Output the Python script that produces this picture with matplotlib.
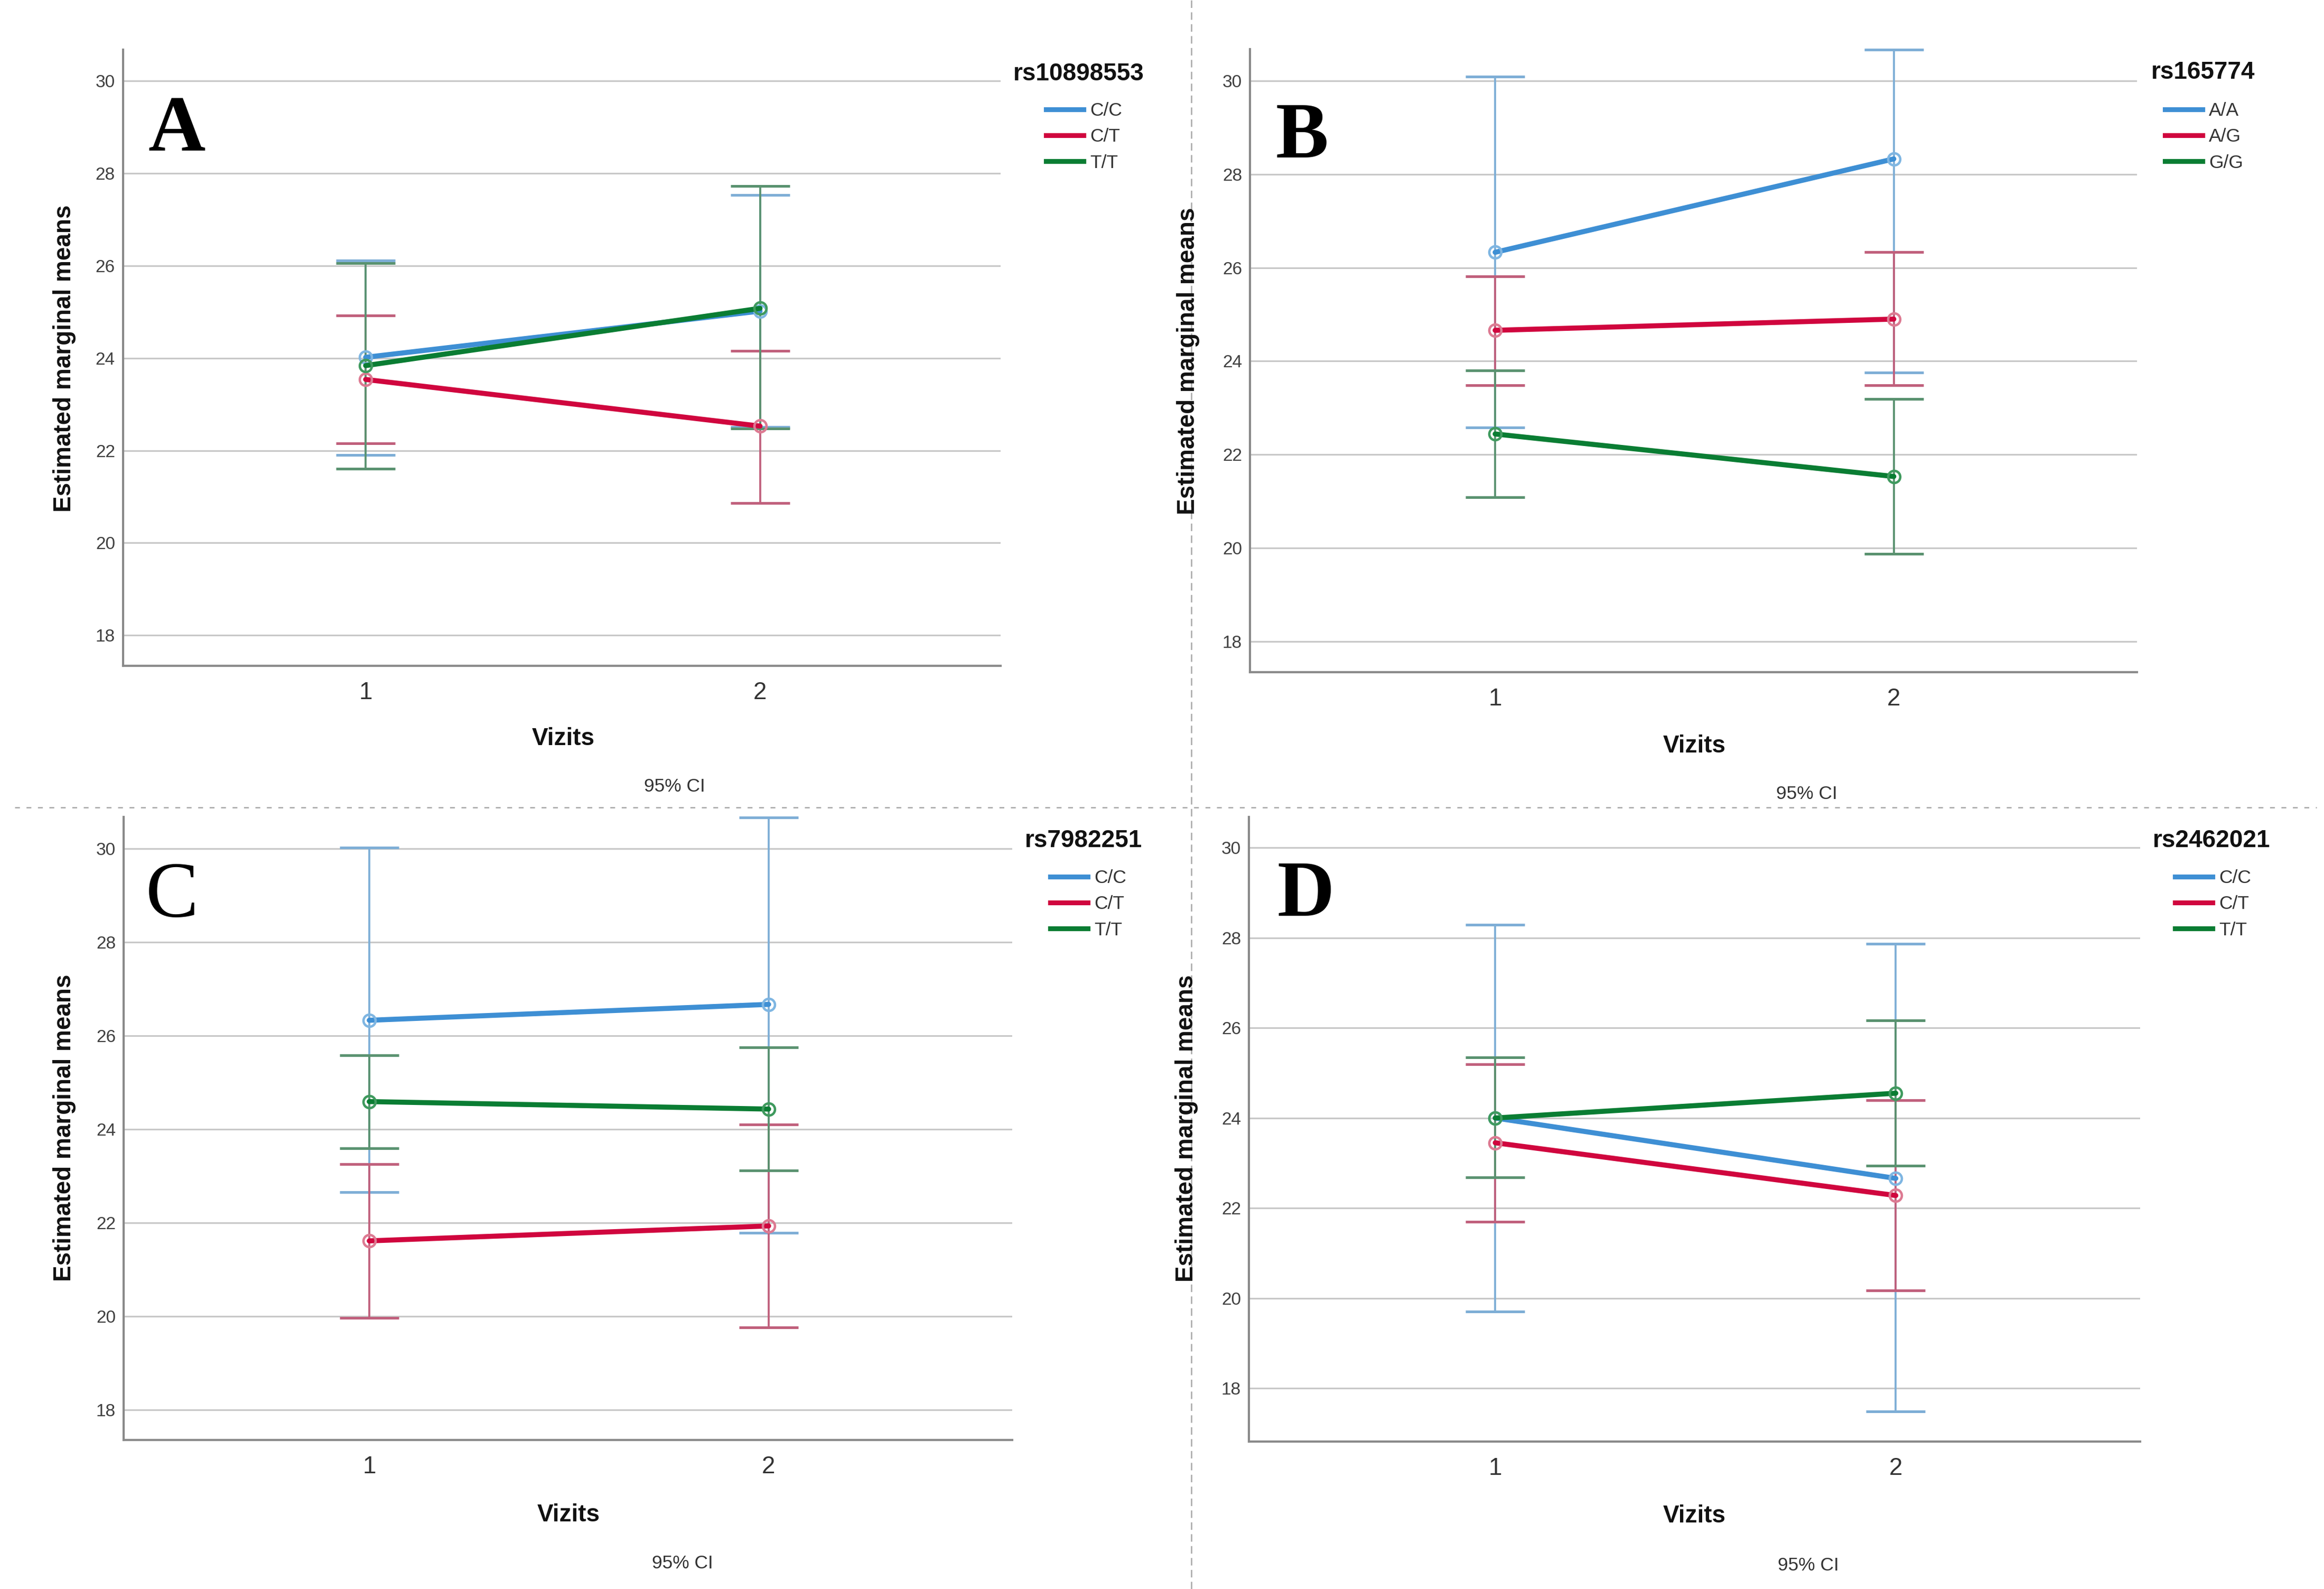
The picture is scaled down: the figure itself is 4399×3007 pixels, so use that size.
import matplotlib
matplotlib.use('Agg')
import matplotlib.pyplot as plt
from matplotlib.lines import Line2D

plt.rcParams['font.family'] = ['Liberation Sans', 'DejaVu Sans']
plt.rcParams['lines.scale_dashes'] = False

# ---------------- data ----------------
visits = [1, 2]
y_ticks = [18, 20, 22, 24, 26, 28, 30]

A_snp = 'rs10898553'
A_groups = ['C/C', 'C/T', 'T/T']
A_means = [[24.02, 25.02], [23.54, 22.53], [23.84, 25.08]]
A_lower = [[21.90, 22.51], [22.16, 20.86], [21.61, 22.48]]
A_upper = [[26.12, 27.53], [24.93, 24.16], [26.06, 27.73]]

B_snp = 'rs165774'
B_groups = ['A/A', 'A/G', 'G/G']
B_means = [[26.33, 28.33], [24.66, 24.90], [22.44, 21.53]]
B_lower = [[22.58, 23.75], [23.48, 23.48], [21.08, 19.87]]
B_upper = [[30.09, 30.67], [25.82, 26.33], [23.80, 23.19]]

C_snp = 'rs7982251'
C_groups = ['C/C', 'C/T', 'T/T']
C_means = [[26.33, 26.67], [21.61, 21.93], [24.59, 24.43]]
C_lower = [[22.65, 21.78], [19.96, 19.76], [23.59, 23.12]]
C_upper = [[30.02, 30.67], [23.25, 24.10], [25.58, 25.75]]

D_snp = 'rs2462021'
D_groups = ['C/C', 'C/T', 'T/T']
D_means = [[24.00, 22.66], [23.45, 22.28], [24.00, 24.55]]
D_lower = [[19.71, 17.49], [21.70, 20.17], [22.68, 22.94]]
D_upper = [[28.29, 27.86], [25.19, 24.40], [25.35, 26.16]]

# ---------------- style ----------------
line_colors = ['#3e8fd4', '#d0063e', '#0a7d33']
err_colors = ['#7eaed6', '#c0607c', '#5a9270']
mark_edges = ['#7fb6e2', '#dd7a92', '#3f9a5e']

W, H = 4399, 3007
fig = plt.figure(figsize=(W / 300, H / 300), dpi=300)


def fx(x):
    return x / W


def fy(y):
    return 1 - y / H


panels = [
    dict(letter='A', bold=True, snp=A_snp, groups=A_groups, means=A_means, lower=A_lower, upper=A_upper,
         box=(233, 94, 1894, 1260), ylim=(17.34, 30.68),
         letter_xy=(280, 285), ylab=(122, 678), xlab=(1066, 1398), ci=(1277, 1488),
         title=(1918, 140), leg=(1980, 193)),
    dict(letter='B', bold=True, snp=B_snp, groups=B_groups, means=B_means, lower=B_lower, upper=B_upper,
         box=(2366, 93, 4045, 1272), ylim=(17.34, 30.68),
         letter_xy=(2415, 298), ylab=(2249, 683), xlab=(3207, 1412), ci=(3420, 1503),
         title=(4072, 137), leg=(4098, 193)),
    dict(letter='C', bold=False, snp=C_snp, groups=C_groups, means=C_means, lower=C_lower, upper=C_upper,
         box=(234, 1546, 1916, 2725), ylim=(17.35, 30.68),
         letter_xy=(276, 1735), ylab=(122, 2134), xlab=(1076, 2867), ci=(1292, 2959),
         title=(1940, 1591), leg=(1988, 1645)),
    dict(letter='D', bold=True, snp=D_snp, groups=D_groups, means=D_means, lower=D_lower, upper=D_upper,
         box=(2364, 1546, 4051, 2728), ylim=(16.82, 30.68),
         letter_xy=(2417, 1733), ylab=(2246, 2135), xlab=(3207, 2869), ci=(3423, 2963),
         title=(4075, 1591), leg=(4117, 1645)),
]

for p in panels:
    x0, y0, x1, y1 = p['box']
    ax = fig.add_axes([fx(x0), fy(y1), fx(x1) - fx(x0), fy(y0) - fy(y1)])
    ax.set_xlim(0.385, 2.61)
    ax.set_ylim(*p['ylim'])
    ax.set_xticks(visits)
    ax.set_xticklabels([str(v) for v in visits])
    ax.set_yticks(y_ticks)
    ax.set_yticklabels([str(t) for t in y_ticks])
    ax.yaxis.grid(True, color='#c8c8c8', lw=0.75)
    ax.set_axisbelow(True)
    for s in ['top', 'right']:
        ax.spines[s].set_visible(False)
    for s in ['left', 'bottom']:
        ax.spines[s].set_color('#8a8a8a')
        ax.spines[s].set_linewidth(1.0)
    ax.tick_params(axis='y', length=0, pad=3.6, labelsize=8, labelcolor='#404040')
    ax.tick_params(axis='x', length=0, pad=7, labelsize=11, labelcolor='#333333')

    for gi in range(len(p['groups'])):
        m = p['means'][gi]
        lo = p['lower'][gi]
        up = p['upper'][gi]
        yerr = [[m[i] - lo[i] for i in range(2)], [up[i] - m[i] for i in range(2)]]
        ax.errorbar(visits, m, yerr=yerr, fmt='none', ecolor=err_colors[gi],
                    elinewidth=0.9, capsize=13.4, capthick=1.2, zorder=2, clip_on=False)
    for gi, g in enumerate(p['groups']):
        ax.plot(visits, p['means'][gi], color=line_colors[gi], lw=2.3, zorder=3,
                marker='o', ms=5.5, mfc='none', mec=mark_edges[gi], mew=1.1,
                solid_capstyle='round', clip_on=False)

    handles = [Line2D([], [], color=line_colors[gi], lw=2.2) for gi in range(len(p['groups']))]
    ax.legend(handles, p['groups'], loc='upper left',
              bbox_to_anchor=(fx(p['leg'][0]), fy(p['leg'][1])), bbox_transform=fig.transFigure,
              frameon=False, borderpad=0, borderaxespad=0, handlelength=2.0,
              handletextpad=0.35, labelspacing=0.46, fontsize=8.5, labelcolor='#333333')

    fig.text(fx(p['title'][0]), fy(p['title'][1]), p['snp'], ha='left', va='center',
             fontsize=11, fontweight='bold', color='#111111')
    fig.text(fx(p['ylab'][0]), fy(p['ylab'][1]), 'Estimated marginal means', rotation=90,
             ha='center', va='center', fontsize=11, fontweight='bold', color='#111111')
    fig.text(fx(p['xlab'][0]), fy(p['xlab'][1]), 'Vizits', ha='center', va='center',
             fontsize=11, fontweight='bold', color='#111111')
    fig.text(fx(p['ci'][0]), fy(p['ci'][1]), '95% CI', ha='center', va='center',
             fontsize=8.5, color='#333333')
    fig.text(fx(p['letter_xy'][0]), fy(p['letter_xy'][1]), p['letter'], ha='left', va='baseline',
             fontsize=36, fontweight='bold' if p['bold'] else 'normal',
             family=['Liberation Serif', 'DejaVu Serif'], color='black')

# dashed separators
fig.add_artist(Line2D([fx(28), fx(4385)], [fy(1528), fy(1528)], transform=fig.transFigure,
                      color='#a8a8a8', lw=0.6, dashes=(2.2, 3.0)))
fig.add_artist(Line2D([fx(2255), fx(2255)], [0, 1], transform=fig.transFigure,
                      color='#a8a8a8', lw=0.6, dashes=(3.4, 2.0)))

fig.savefig('out.png', dpi=300, facecolor='white')
